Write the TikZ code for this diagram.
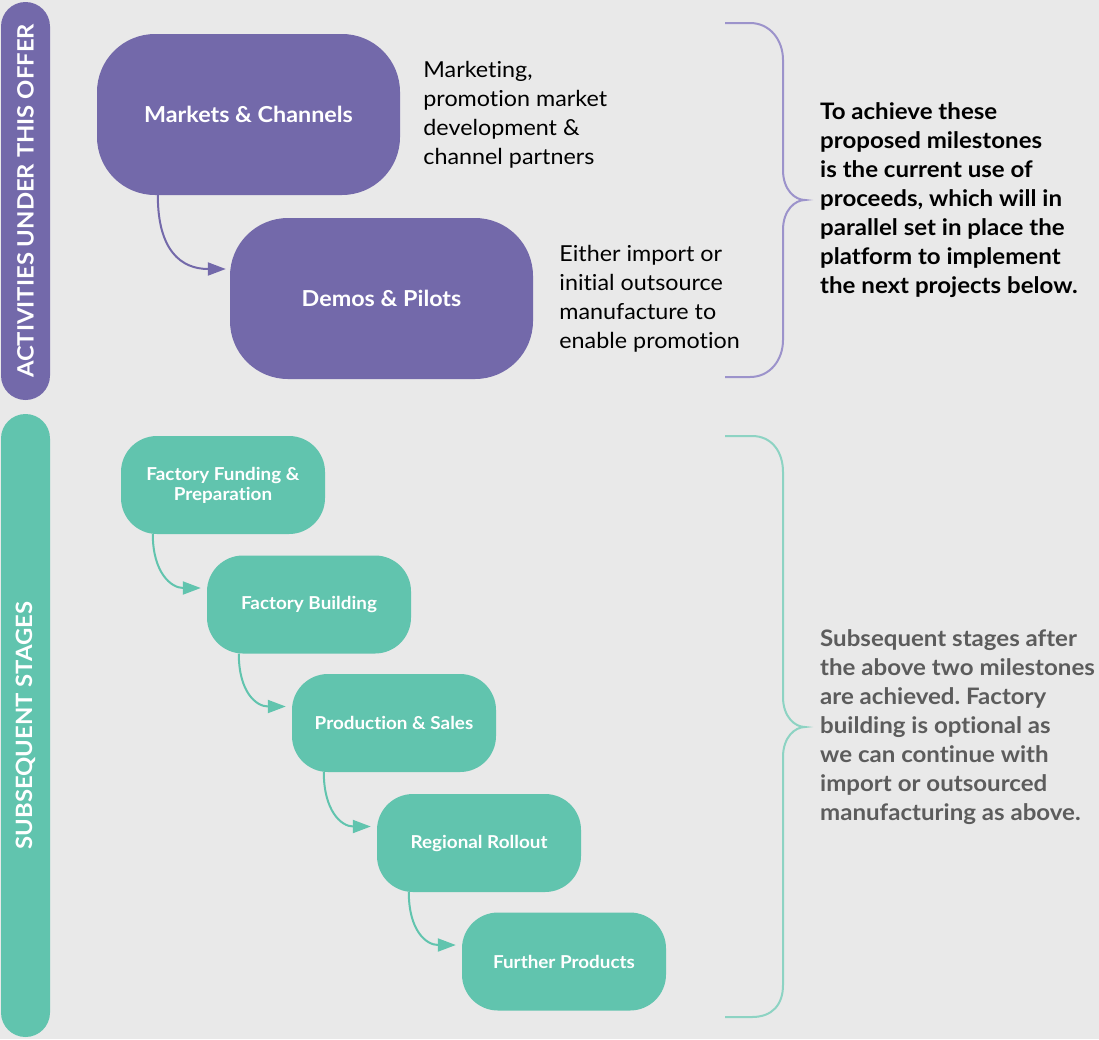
\documentclass[tikz,border=0pt]{standalone}
\usepackage{fontspec}
\setmainfont{Lato}[FakeStretch=1.06,Ligatures=NoCommon]
\usepackage{xcolor}
\usepackage{tikz}
\usetikzlibrary{arrows.meta,positioning}
\definecolor{plum}{HTML}{7369AA}
\definecolor{mint}{HTML}{61C4AE}
\definecolor{plumline}{HTML}{9C93CB}
\definecolor{mintline}{HTML}{8DD3C3}
\definecolor{bggray}{HTML}{E9E9E9}
\definecolor{notegray}{HTML}{5C5C5C}
\frenchspacing
\begin{document}
\begin{tikzpicture}[x=1pt,y=-1pt,
 bar/.style={fill=#1,rotate=90,rounded corners=24.5pt,minimum height=49pt,inner sep=0pt,
  text=white,font=\fontsize{22.5}{24}\selectfont\bfseries},
 big/.style={fill=plum,rounded corners=58pt,minimum width=303pt,minimum height=161pt,
  text=white,font=\fontsize{22}{24}\selectfont\bfseries},
 stage/.style={fill=mint,rounded corners=36pt,minimum width=204pt,minimum height=98pt,
  text=white,align=center,font=\fontsize{17.8}{22}\selectfont\bfseries},
 note/.style={align=left,inner sep=0pt,font=\fontsize{22}{29}\selectfont},
 link/.style={line width=2pt,-{Triangle[length=18pt,width=13pt]}},
 brace/.style={line width=2pt}]
\useasboundingbox (0,0) rectangle (1099,1039);
\fill[bggray] (0,0) rectangle (1099,1039);
\node[bar=plum,minimum width=398pt] (top) at (25.5,201) {ACTIVITIES UNDER THIS OFFER};
\node[bar=mint,minimum width=623pt] (low) at (25.5,725.5) {SUBSEQUENT STAGES};
\node[big] (mc) at (248.5,114.5) {Markets \& Channels};
\node[big] (dp) at (381.5,298.5) {Demos \& Pilots};
\node[note,right=23pt of mc] (mcn) {Marketing,\\promotion market\\development \&\\channel partners};
\node[note,right=26pt of dp] (dpn) {Either import or\\initial outsource\\manufacture to\\enable promotion};
\node[stage] (ff) at (223,485) {Factory Funding \&\\[-2pt]Preparation};
\node[stage] (fb) at (309,604.5) {Factory Building};
\node[stage] (ps) at (394,723) {Production \& Sales};
\node[stage] (rr) at (479,843) {Regional Rollout};
\node[stage] (fp) at (564,961.5) {Further Products};
\draw[link,plum] ([xshift=61pt]mc.south west) .. controls +(0,55) and +(-45,0) .. ([xshift=-4pt,yshift=29.5pt]dp.west);
\draw[link,mint] ([xshift=32pt]ff.south west) .. controls +(0,38) and +(-30,0) .. ([xshift=-6pt,yshift=16.5pt]fb.west);
\draw[link,mint] ([xshift=32pt]fb.south west) .. controls +(0,38) and +(-30,0) .. ([xshift=-6pt,yshift=16.5pt]ps.west);
\draw[link,mint] ([xshift=32pt]ps.south west) .. controls +(0,38) and +(-30,0) .. ([xshift=-6pt,yshift=16.5pt]rr.west);
\draw[link,mint] ([xshift=32pt]rr.south west) .. controls +(0,38) and +(-30,0) .. ([xshift=-6pt,yshift=16.5pt]fp.west);
% braces
\coordinate (tipA) at (805,200);
\coordinate (tipB) at (805,727);
\draw[brace,plumline] (725,23) -- (750,23) .. controls (770,23) and (783,40) .. (783,60) -- (783,170)
 .. controls (783,190) and (795,200) .. (tipA) .. controls (795,200) and (783,210) .. (783,230)
 -- (783,340) .. controls (783,360) and (770,377) .. (750,377) -- (725,377);
\draw[brace,mintline] (725,436) -- (752,436) .. controls (772,436) and (783,452) .. (783,472) -- (783,697)
 .. controls (783,717) and (795,727) .. (tipB) .. controls (795,727) and (783,737) .. (783,757)
 -- (783,985) .. controls (783,1005) and (772,1017) .. (752,1017) -- (725,1017);
\node[note,font=\fontsize{22.7}{29}\selectfont\bfseries,right=15pt of tipA] (goal) {To achieve these\\proposed milestones\\is the current use of\\proceeds, which will in\\parallel set in place the\\platform to implement\\the next projects below.};
\node[note,text=notegray,font=\fontsize{22.7}{29}\selectfont\bfseries,right=15pt of tipB] (later) {Subsequent stages after\\the above two milestones\\are achieved. Factory\\building is optional as\\we can continue with\\import or outsourced\\manufacturing as above.};
\end{tikzpicture}
\end{document}
